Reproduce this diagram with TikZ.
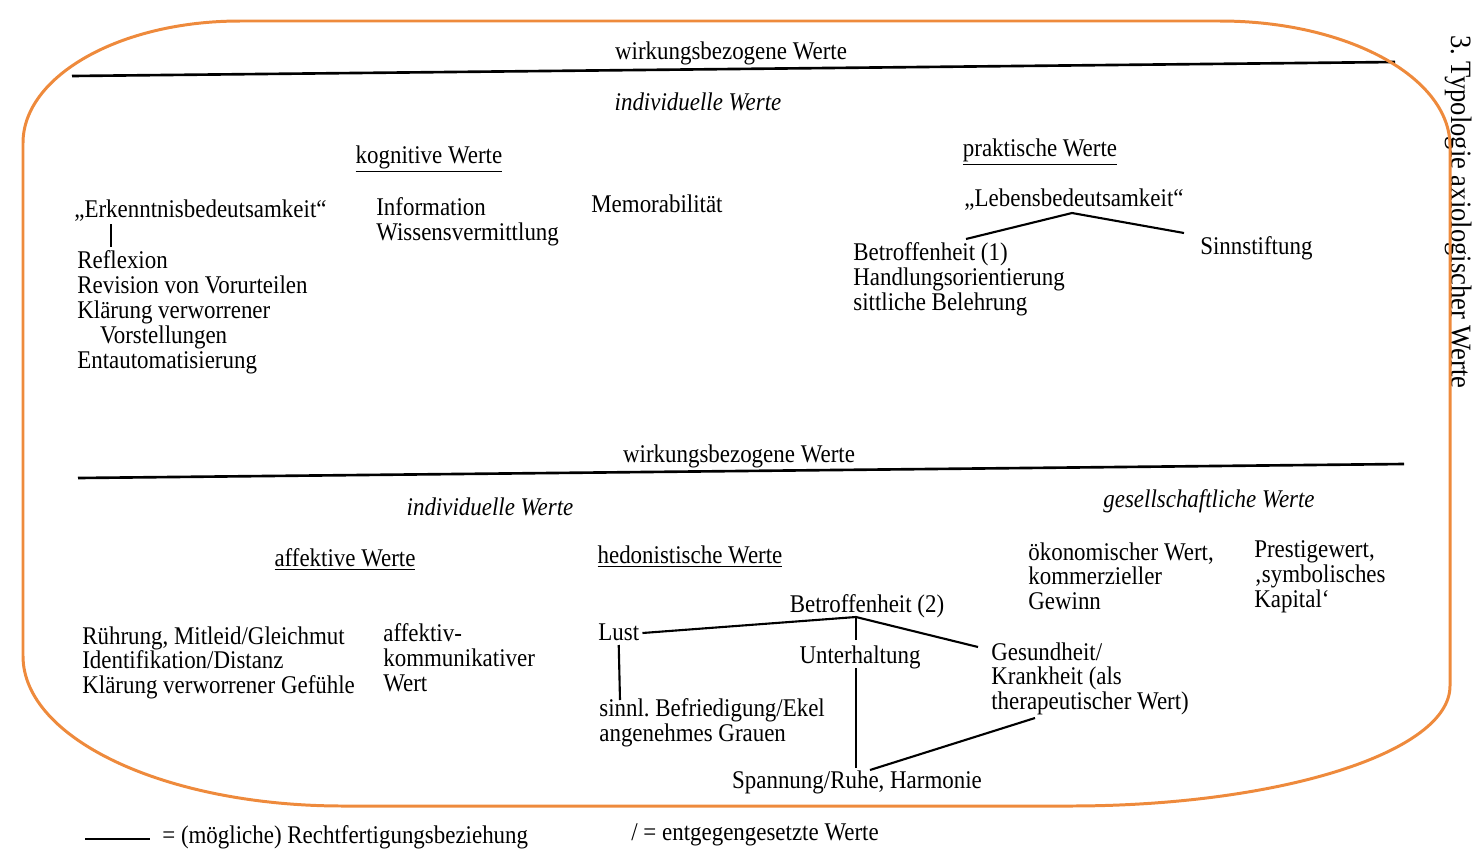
\documentclass[tikz,border=0pt]{standalone}
\usepackage{fontspec}
\setmainfont{Liberation Serif}[FakeStretch=0.9]
\usepackage{tikz}
\usetikzlibrary{calc}
\usepackage{xcolor}
\definecolor{markorange}{HTML}{EE8A3C}
\frenchspacing

\begin{document}
\begin{tikzpicture}[x=0.2mm,y=-0.2mm,
  every node/.style={inner sep=0pt,font=\fontsize{14.5}{14.2}\selectfont},
  txt/.style={anchor=base west},
  blk/.style={anchor=north west,align=left},
  mid/.style={anchor=base},
  rel/.style={line width=1.2pt},
  rule/.style={line width=1.5pt}]
% Typology of axiological values, two panels, orange frame drawn over the scan.
\useasboundingbox (0,0) rectangle (1472,858);
\node[mid] (wtop) at (731,59) {wirkungsbezogene Werte};
\draw[rule] (72,76) -- (1395,62);
\node[mid] (ind1) at (698,110) {\itshape individuelle Werte};
\node[mid] (kog) at (429,163) {\underline{kognitive Werte}};
\node[mid] (prak) at (1040,156) {\underline{praktische Werte}};
\node[txt] (erk) at (74,217) {„Erkenntnisbedeutsamkeit“};
\node[blk] (refl) at (77,250) {Reflexion\\Revision von Vorurteilen\\Klärung verworrener\\\hspace*{13pt}Vorstellungen\\Entautomatisierung};
\node[blk] (info) at (376,197) {Information\\Wissensvermittlung};
\node[txt] (memo) at (591,212) {Memorabilität};
\node[mid] (lebens) at (1074,206) {„Lebensbedeutsamkeit“};
\node[blk] (betr1) at (853,242) {Betroffenheit (1)\\Handlungsorientierung\\sittliche Belehrung};
\node[txt] (sinn) at (1200,254) {Sinnstiftung};
\draw[rel] ($(erk.base west)+(37,7)$) -- ($(refl.north west)+(34,-3)$);
\draw[rel] ($(betr1.north west)+(113,-3)$) -- ($(lebens.base)+(-2,7)$) -- ($(sinn.base west)+(-16,-21)$);

\node[mid] (wbot) at (739,462) {wirkungsbezogene Werte};
\draw[rule] (78,478) -- (1404,464);
\node[mid] (ind2) at (490,515) {\itshape individuelle Werte};
\node[mid] (ges) at (1209,507) {\itshape gesellschaftliche Werte};
\node[mid] (aff) at (345,566) {\underline{affektive Werte}};
\node[mid] (hed) at (690,563) {\underline{hedonistische Werte}};
\node[blk] (oek) at (1028,542) {ökonomischer Wert,\\kommerzieller\\Gewinn};
\node[blk] (prest) at (1254,540) {Prestigewert,\\‚symbolisches\\Kapital‘};
\node[blk] (ruehr) at (82,626) {Rührung, Mitleid/Gleichmut\\Identifikation/Distanz\\Klärung verworrener Gefühle};
\node[blk] (affkom) at (383,623) {affektiv-\\kommunikativer\\Wert};
\node[mid] (betr2) at (867,612) {Betroffenheit (2)};
\node[txt] (lust) at (598,640) {Lust};
\node[mid] (unter) at (860,663) {Unterhaltung};
\node[blk] (gesund) at (991,642) {Gesundheit/\\Krankheit (als\\therapeutischer Wert)};
\node[blk] (sinnl) at (599,698) {sinnl. Befriedigung/Ekel\\angenehmes Grauen};
\node[mid] (spann) at (857,788) {Spannung/Ruhe, Harmonie};
\draw[rel] ($(lust.base east)+(3,-7)$) -- ($(betr2.base)+(-11,5)$) -- ($(gesund.north west)+(-13,5)$);
\draw[rel] ($(betr2.base)+(-11,5)$) -- ($(unter.base)+(-4,-23)$);
\draw[rel] ($(unter.base)+(-4,5)$) -- ($(spann.base)+(-1,-20)$);
\draw[rel] ($(spann.base)+(13,-18)$) -- ($(gesund.north west)+(44,76)$);
\draw[rel] ($(lust.base)+(0,5)$) -- ($(sinnl.north west)+(21,2)$);

\node[txt] (leg1) at (162,843) {= (mögliche) Rechtfertigungsbeziehung};
\draw[rel] ($(leg1.base west)+(-77,-4)$) -- ($(leg1.base west)+(-12,-4)$);
\node[txt] (leg2) at (631,840) {/ = entgegengesetzte Werte};
\node[anchor=base west,rotate=-90,font=\fontsize{16.8}{18}\selectfont] (kap) at (1451,35) {3. Typologie axiologischer Werte};

\draw[markorange,line width=1.7pt] (240,21) -- (1220,21) .. controls (1347,21) and (1450,77) .. (1450,146) -- (1450,686) .. controls (1450,752) and (1280,806) .. (1070,806) -- (343,806) .. controls (166,806) and (23,739) .. (23,656) -- (23,143) .. controls (23,76) and (120,21) .. (240,21) -- cycle;
\end{tikzpicture}
\end{document}
